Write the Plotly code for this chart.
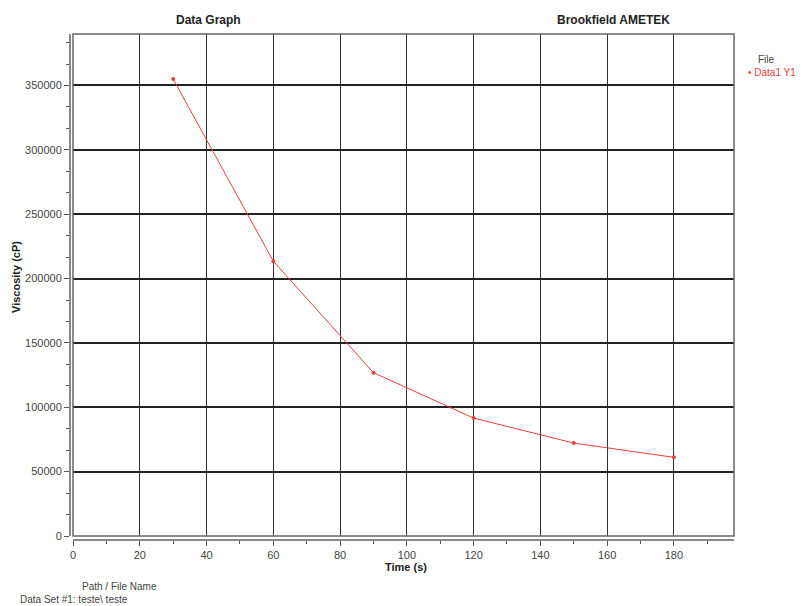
import plotly.graph_objects as go

# ---- data ----
time_s = [30, 60, 90, 120, 150, 180]
viscosity_cp = [355000, 213500, 126900, 91600, 72200, 61100]
series_name = "Data1 Y1"
x_ticks = [0, 20, 40, 60, 80, 100, 120, 140, 160, 180]
y_ticks = [0, 50000, 100000, 150000, 200000, 250000, 300000, 350000]

# page has an 8px body margin; figure origin sits at page (8, 8)
OFF = 8
W, H = 803 - OFF, 606 - OFF
ML, MT = 70 - OFF, 34 - OFF
PLOT_RIGHT, AXIS_BOTTOM = 734 - OFF, 540 - OFF
MR, MB = W - PLOT_RIGHT, H - AXIS_BOTTOM
PW, PH = W - ML - MR, H - MT - MB


def px(x):  # page pixel -> paper
    return (x - OFF - ML) / PW


def py(y):
    return (H - MB - (y - OFF)) / PH


FONT = "Liberation Sans, Arial, sans-serif"
RED = "#e5403a"

fig = go.Figure()
fig.add_trace(go.Scatter(
    x=time_s, y=viscosity_cp, mode="lines+markers", name=series_name,
    line=dict(color=RED, width=1),
    marker=dict(color=RED, size=4),
    showlegend=False,
))

x0_dom = 3 / PW
y0_dom = 4 / PH

fig.update_layout(
    width=W, height=H,
    margin=dict(l=ML, r=MR, t=MT, b=MB, pad=0),
    paper_bgcolor="white", plot_bgcolor="white",
    font=dict(family=FONT, size=11, color="#333"),
    xaxis=dict(
        domain=[x0_dom, 1], anchor="free", position=0,
        range=[0, 198], tickvals=x_ticks, ticktext=[str(v) for v in x_ticks],
        showgrid=True, gridcolor="#333", gridwidth=1.3,
        zeroline=False, showline=True, linecolor="#888", linewidth=2,
        ticks="outside", ticklen=5, tickcolor="#555", tickwidth=1,
        minor=dict(dtick=10, tick0=0, ticks="outside", ticklen=3, tickcolor="#555", showgrid=False),
        tickfont=dict(size=11, color="#444"),
    ),
    yaxis=dict(
        domain=[y0_dom, 1], anchor="free", position=0,
        range=[0, 390000], tickvals=y_ticks, ticktext=[str(v) for v in y_ticks],
        showgrid=True, gridcolor="#222", gridwidth=1.5,
        zeroline=False, showline=True, linecolor="#888", linewidth=2,
        ticks="outside", ticklen=5, tickcolor="#555", tickwidth=1,
        minor=dict(dtick=50000 / 3, tick0=0, ticks="outside", ticklen=3, tickcolor="#555", showgrid=False),
        tickfont=dict(size=11, color="#444"),
    ),
)

# plot frame
fig.add_shape(type="rect", xref="paper", yref="paper",
              x0=x0_dom, x1=1, y0=y0_dom, y1=1,
              line=dict(color="#666", width=1.5), fillcolor="rgba(0,0,0,0)", layer="above")

ann = [
    dict(text="<b>Data Graph</b>", x=px(208), y=py(20), size=12, color="#222", xanchor="center"),
    dict(text="<b>Brookfield AMETEK</b>", x=px(613), y=py(20), size=12, color="#222", xanchor="center"),
    dict(text="<b>Time (s)</b>", x=px(406), y=py(567), size=11, color="#222", xanchor="center"),
    dict(text="Path / File Name", x=px(80), y=py(586), size=10, color="#444", xanchor="left"),
    dict(text="Data Set #1: teste\\ teste", x=px(18), y=py(599), size=10, color="#444", xanchor="left"),
    dict(text="File", x=px(756), y=py(59), size=10, color="#444", xanchor="left"),
    dict(text="• " + series_name, x=px(746), y=py(72), size=10, color=RED, xanchor="left"),
]
for a in ann:
    fig.add_annotation(text=a["text"], x=a["x"], y=a["y"], xref="paper", yref="paper",
                       xanchor=a["xanchor"], yanchor="middle", showarrow=False,
                       font=dict(family=FONT, size=a["size"], color=a["color"]))

fig.add_annotation(text="<b>Viscosity (cP)</b>", x=px(16), y=py(277), xref="paper", yref="paper",
                   textangle=-90, showarrow=False, xanchor="center", yanchor="middle",
                   font=dict(family=FONT, size=11, color="#222"))

fig.write_html("out.html")
